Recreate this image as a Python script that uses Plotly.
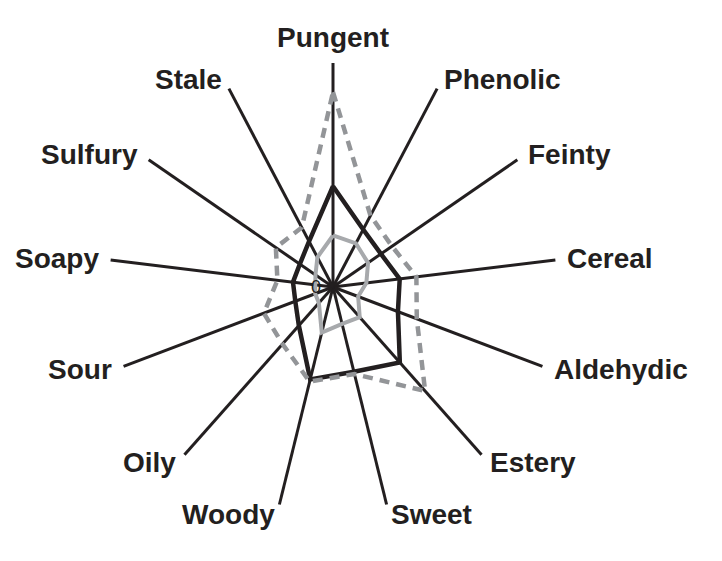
import math
import plotly.graph_objects as go

categories = ["Pungent", "Phenolic", "Feinty", "Cereal", "Aldehydic", "Estery",
              "Sweet", "Woody", "Oily", "Sour", "Soapy", "Sulfury", "Stale"]

series_black = [4.5, 2.9, 2.6, 3.0, 3.1, 4.5, 3.9, 4.25, 2.3, 1.8, 1.8, 1.8, 2.3]
series_dashed = [8.7, 3.6, 3.2, 3.75, 4.0, 6.2, 4.0, 4.35, 3.4, 3.3, 2.5, 3.1, 3.0]
series_gray = [2.3, 2.2, 1.9, 1.5, 1.2, 1.8, 1.7, 2.1, 0.95, 0.85, 0.8, 0.95, 1.5]

radial_max = 10
radial_zero_label = "0"

INK = "#231f20"
FONT = "Liberation Sans, Arial, sans-serif"


def closed(vals):
    return list(vals) + [vals[0]]


theta = closed(categories)

fig = go.Figure()
fig.add_trace(go.Scatterpolar(
    r=closed(series_black), theta=theta, mode="lines",
    line=dict(color=INK, width=4.5), showlegend=False, hoverinfo="skip"))
fig.add_trace(go.Scatterpolar(
    r=closed(series_dashed), theta=theta, mode="lines",
    line=dict(color="#939598", width=4.5, dash="10px,7px"), showlegend=False, hoverinfo="skip"))
fig.add_trace(go.Scatterpolar(
    r=closed(series_gray), theta=theta, mode="lines",
    line=dict(color="#a7a9ac", width=4), showlegend=False, hoverinfo="skip"))

W, H = 722, 561
OFF = 8  # page body margin
cx, cy, R = 333 - OFF, 287 - OFF, 224
x0, x1 = (cx - R) / W, (cx + R) / W
y0, y1 = (H - cy - R) / H, (H - cy + R) / H

# category labels placed just beyond the end of each spoke
annotations = []
n = len(categories)
for i, name in enumerate(categories):
    ang = math.radians(90 - i * 360 / n)
    c, s = math.cos(ang), math.sin(ang)
    if abs(c) < 0.05:
        D = 232
        xa, ya = "center", ("bottom" if s > 0 else "top")
    else:
        D = 234
        xa, ya = ("left" if c > 0 else "right"), "middle"
    px = cx + D * c
    py = cy - D * s
    annotations.append(dict(
        text=f"<b>{name}</b>", xref="paper", yref="paper",
        x=px / W, y=(H - py) / H, xanchor=xa, yanchor=ya, showarrow=False,
        font=dict(family=FONT, size=28, color=INK)))

annotations.append(dict(
    text=radial_zero_label, xref="paper", yref="paper",
    x=(x0 + x1) / 2 - 10 / W, y=(y0 + y1) / 2,
    xanchor="right", yanchor="middle", showarrow=False,
    font=dict(family=FONT, size=18, color=INK)))

fig.update_layout(
    width=W, height=H,
    margin=dict(l=0, r=0, t=0, b=0),
    paper_bgcolor="white",
    plot_bgcolor="white",
    showlegend=False,
    polar=dict(
        domain=dict(x=[x0, x1], y=[y0, y1]),
        bgcolor="white",
        angularaxis=dict(
            type="category",
            categoryorder="array",
            categoryarray=categories,
            direction="clockwise",
            rotation=90,
            showline=False,
            showgrid=True,
            gridcolor=INK,
            gridwidth=2.5,
            ticks="",
            showticklabels=False,
        ),
        radialaxis=dict(
            range=[0, radial_max],
            showgrid=False,
            showline=False,
            showticklabels=False,
            ticks="",
        ),
    ),
    annotations=annotations,
)

fig.write_html("out.html")
